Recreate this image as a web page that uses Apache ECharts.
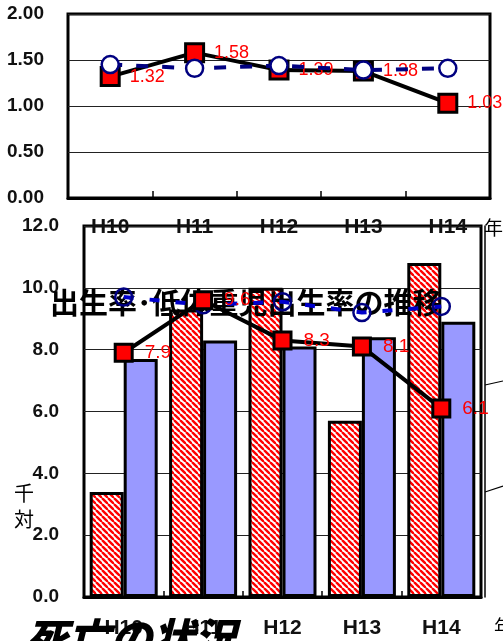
<!DOCTYPE html>
<html>
<head>
<meta charset="utf-8">
<script src="https://cdn.jsdelivr.net/npm/echarts@6/dist/echarts.min.js"></script>
<style>
html,body{margin:0;padding:0;background:#fff;}
#c{width:503px;height:641px;}
</style>
</head>
<body>
<div id="c"></div>
<script>
// ---- data ----
const years = ['H10', 'H11', 'H12', 'H13', 'H14'];
const tfrTicks = [0, 0.5, 1.0, 1.5, 2.0];
const tfrLocal = [1.32, 1.58, 1.39, 1.38, 1.03];
const tfrNation = [1.45, 1.41, 1.44, 1.39, 1.41];
const rateTicks = [0, 2, 4, 6, 8, 10, 12];
const lowWeightLocal = [3.4, 9.3, 10.0, 5.7, 10.8];
const lowWeightNation = [7.7, 8.3, 8.1, 8.4, 8.9];
const birthRateLocal = [7.9, 9.6, 8.3, 8.1, 6.1];
const birthRateNation = [9.7, 9.45, 9.55, 9.2, 9.4];
const titleText = '出生率･低体重児出生率の推移';
const footerText = '死亡の状況';
const unitY = '千\n対';
const unitX = '年';

// hatch pattern
function hatch() {
  const s = 6;
  const cv = document.createElement('canvas');
  cv.width = s; cv.height = s;
  const g = cv.getContext('2d');
  g.fillStyle = '#ffffff';
  g.fillRect(0, 0, s, s);
  g.strokeStyle = '#ff0000';
  g.lineWidth = 2.4;
  for (const o of [-s, 0, s]) {
    g.beginPath();
    g.moveTo(o, 0);
    g.lineTo(o + s, s);
    g.stroke();
  }
  return cv;
}

const FONT = 'Liberation Sans, Arial, sans-serif';
const chart = echarts.init(document.getElementById('c'), null, {renderer: 'canvas'});

const option = {
  animation: false,
  backgroundColor: '#fff',
  title: {
    text: titleText,
    left: 45, top: 283,
    textStyle: {fontSize: 29, fontWeight: 'bold', color: '#000', fontFamily: 'Noto Sans CJK JP'}
  },
  grid: [
    {left: 68, top: 14, width: 422, height: 184, show: true, borderColor: '#000', borderWidth: 3, backgroundColor: 'transparent'},
    {left: 84, top: 226, width: 397, height: 371, show: true, borderColor: '#000', borderWidth: 3, backgroundColor: 'transparent'}
  ],
  xAxis: [
    {
      type: 'category', gridIndex: 0, data: years,
      axisLine: {lineStyle: {color: '#000', width: 3}},
      axisTick: {show: true, inside: true, length: 7, lineStyle: {color: '#000', width: 1.5}},
      axisLabel: {margin: 19, fontSize: 21, fontWeight: 'bold', color: '#111', fontFamily: FONT}
    },
    {
      type: 'category', gridIndex: 1, data: years,
      axisLine: {lineStyle: {color: '#000', width: 3}},
      axisTick: {show: true, inside: true, length: 6, lineStyle: {color: '#000', width: 1.5}},
      axisLabel: {margin: 21, fontSize: 21, fontWeight: 'bold', color: '#111', fontFamily: FONT}
    }
  ],
  yAxis: [
    {
      type: 'value', gridIndex: 0, min: tfrTicks[0], max: tfrTicks[tfrTicks.length - 1], interval: 0.5,
      axisLine: {show: false}, axisTick: {show: false},
      splitLine: {lineStyle: {color: '#222', width: 1}},
      axisLabel: {margin: 24, fontSize: 19, fontWeight: 'bold', color: '#111', fontFamily: FONT, formatter: v => v.toFixed(2)}
    },
    {
      type: 'value', gridIndex: 1, min: rateTicks[0], max: rateTicks[rateTicks.length - 1], interval: 2,
      axisLine: {show: false}, axisTick: {show: false},
      splitLine: {lineStyle: {color: '#222', width: 1}},
      axisLabel: {margin: 25, fontSize: 19, fontWeight: 'bold', color: '#111', fontFamily: FONT, formatter: v => v.toFixed(1)}
    },
    {
      type: 'value', gridIndex: 1, position: 'right', offset: 4, min: 0, max: 12, interval: 2,
      axisLine: {show: true, lineStyle: {color: '#000', width: 1.5}},
      axisTick: {show: false}, axisLabel: {show: false}, splitLine: {show: false}
    }
  ],
  series: [
    {
      type: 'line', xAxisIndex: 0, yAxisIndex: 0, data: tfrLocal, z: 10,
      symbol: 'rect', symbolSize: 18,
      itemStyle: {color: '#ff0000', borderColor: '#000', borderWidth: 3},
      lineStyle: {color: '#000', width: 4},
      label: {show: true, position: 'right', distance: 9, color: '#ff0000', fontSize: 18, fontFamily: FONT, formatter: p => p.value.toFixed(2)}
    },
    {
      type: 'line', xAxisIndex: 0, yAxisIndex: 0, data: tfrNation, z: 11,
      symbol: 'circle', symbolSize: 17,
      itemStyle: {color: '#fff', borderColor: '#000080', borderWidth: 2.5},
      lineStyle: {color: '#000080', width: 4, type: [12, 14]}
    },
    {
      type: 'bar', xAxisIndex: 1, yAxisIndex: 1, data: lowWeightLocal, z: 2,
      barWidth: 34, barGap: '0%',
      itemStyle: {color: {image: hatch(), repeat: 'repeat'}, borderColor: '#000', borderWidth: 3}
    },
    {
      type: 'bar', xAxisIndex: 1, yAxisIndex: 1, data: lowWeightNation, z: 2,
      barWidth: 34, barGap: '0%',
      itemStyle: {color: '#9999ff', borderColor: '#000', borderWidth: 3}
    },
    {
      type: 'line', xAxisIndex: 1, yAxisIndex: 1, data: birthRateNation, z: 10,
      symbol: 'circle', symbolSize: 17,
      itemStyle: {color: 'transparent', borderColor: '#000080', borderWidth: 2.5},
      lineStyle: {color: '#0000cc', width: 4, type: [10, 16]}
    },
    {
      type: 'line', xAxisIndex: 1, yAxisIndex: 1, data: birthRateLocal, z: 11,
      symbol: 'rect', symbolSize: 17,
      itemStyle: {color: '#ff0000', borderColor: '#000', borderWidth: 3},
      lineStyle: {color: '#000', width: 4},
      label: {show: true, position: 'right', distance: 11, color: '#ff0000', fontSize: 19, fontFamily: FONT, formatter: p => p.value.toFixed(1)}
    }
  ],
  graphic: [
    {type: 'text', left: 484, top: 218, style: {text: unitX, fontSize: 19, fill: '#000', fontFamily: 'Noto Sans CJK JP'}},
    {type: 'text', left: 494, top: 617, style: {text: unitX, fontSize: 19, fill: '#000', fontFamily: 'Noto Sans CJK JP'}},
    {type: 'text', left: 14, top: 480, style: {text: unitY, fontSize: 20, lineHeight: 26, fill: '#000', fontFamily: 'Noto Sans CJK JP'}},
    {type: 'text', left: 26, top: 617, z: 20, style: {text: footerText, fontSize: 42, fontWeight: 900, fontStyle: 'italic', fill: '#000', fontFamily: 'Noto Sans CJK JP'}},
    {type: 'line', z: 20, shape: {x1: 485, y1: 385, x2: 503, y2: 381}, style: {stroke: '#000', lineWidth: 1.2}},
    {type: 'line', z: 20, shape: {x1: 485, y1: 492, x2: 503, y2: 486}, style: {stroke: '#000', lineWidth: 1.2}}
  ]
};
chart.setOption(option);
</script>
</body>
</html>
